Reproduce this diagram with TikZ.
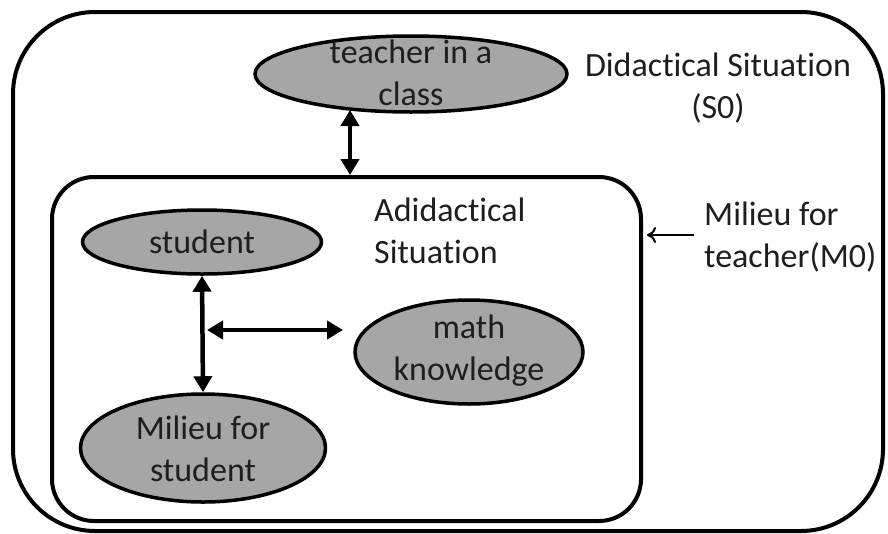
\documentclass[tikz,border=0pt]{standalone}
\usepackage{fontspec}
\setmainfont{Carlito}[Ligatures=NoCommon]
\usetikzlibrary{arrows.meta,shapes.geometric}
\definecolor{ellgray}{HTML}{A6A6A6}
\definecolor{txt}{HTML}{1E1E1E}
\begin{document}
\begin{tikzpicture}[x=1pt,y=-1pt,
  ell/.style={ellipse,draw=black,fill=ellgray,line width=3.5pt,inner sep=0pt},
  lbl/.style={font=\fontsize{34}{42}\selectfont,text=txt,inner sep=0pt},
  dbl/.style={line width=4.5pt,{Triangle[length=16pt,width=18pt]}-{Triangle[length=16pt,width=18pt]}},
  thin/.style={line width=2pt,-{To[length=9pt,width=16pt,line width=2pt]}},
  box/.style={draw=black,line width=4pt,rounded corners=#1}]
\useasboundingbox (0,0) rectangle (888,533);
% outer and inner frames
\draw[box=82pt] (13,12) rectangle (883,531);
\node[box=42pt,minimum width=589pt,minimum height=344pt,inner sep=0pt] (inner) at (346.5,349) {};
% ellipses
\node[ell,minimum width=312pt,minimum height=76pt] (teacher) at (411,74) {};
\node[lbl,align=center] (teachertxt) at (411,73) {teacher in a\\class};
\node[ell,minimum width=239pt,minimum height=64pt] (student) at (202,242) {};
\node[lbl] (studenttxt) at (202,242) {student};
\node[ell,minimum width=228pt,minimum height=104pt] (math) at (469,352) {};
\node[lbl,align=center] (mathtxt) at (469,351) {math\\knowledge};
\node[ell,minimum width=245pt,minimum height=108pt] (mstudent) at (203,448) {};
\node[lbl,align=center] (mstudenttxt) at (203,449) {Milieu for\\student};
% labels
\node[lbl,align=center] (didact) at (718,88) {Didactical Situation\\(S0)};
\node[lbl,align=left,anchor=west] (adidact) at (374,231) {Adidactical\\Situation};
\node[lbl,align=left,anchor=west] (milieuT) at (704,237) {Milieu for\\teacher(M0)};
% connectors
\coordinate (tA) at (350,110);
\draw[dbl] (tA) -- (tA |- inner.north);
\draw[dbl] (student.south) -- (mstudent.north);
\coordinate (hA) at (207,330);
\coordinate (hB) at (343,330);
\draw[dbl] (hA) -- (hB);
\coordinate (mA) at (694,235);
\coordinate (mB) at (647,235);
\draw[thin] (mA) -- (mB);
\end{tikzpicture}
\end{document}
